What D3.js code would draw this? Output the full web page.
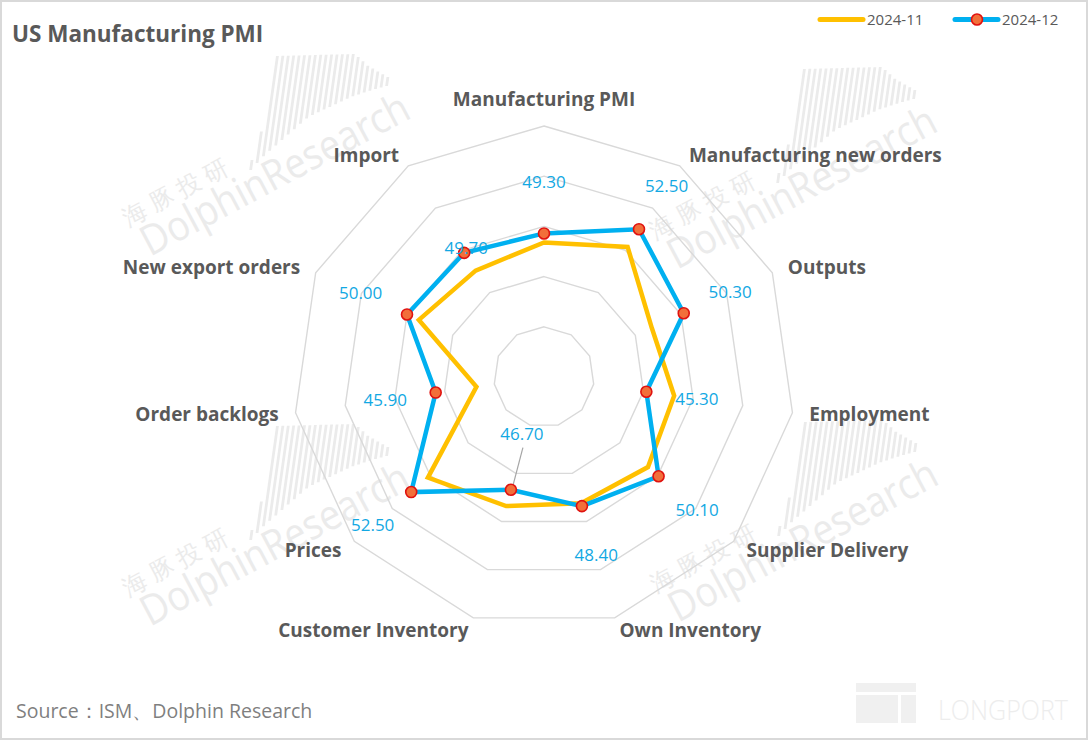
<!doctype html>
<html>
<head>
<meta charset="UTF-8">
<title>US Manufacturing PMI</title>
<script src="https://d3js.org/d3.v7.min.js"></script>
<style>
    body { margin: 0; background: #fff; }
    text { font-family: "Open Sans", "Noto Sans", sans-serif; }
</style>
</head>
<body>
<svg id="chart" width="1088" height="740"></svg>
<script>
    // data
    var categories = ["Manufacturing PMI", "Manufacturing new orders", "Outputs", "Employment",
        "Supplier Delivery", "Own Inventory", "Customer Inventory", "Prices",
        "Order backlogs", "New export orders", "Import"];
    var nov = [48.4, 50.4, 46.8, 48.1, 48.7, 48.1, 48.4, 50.3, 41.8, 48.7, 47.6];
    var dec = [49.3, 52.5, 50.3, 45.3, 50.1, 48.4, 46.7, 52.5, 45.9, 50.0, 49.7];
    var seriesNames = ["2024-11", "2024-12"];
    var ringValues = [40, 45, 50, 55, 60];

    var W = 1088, H = 740, cx = 544, cy = 377;
    var n = categories.length;
    var svg = d3.select("#chart");

    var r = d3.scaleLinear().domain([35, 60]).range([0, 251]);
    var angle = d3.scaleLinear().domain([0, n]).range([0, 2 * Math.PI]);

    function px(i, v) { return cx + r(v) * Math.sin(angle(i)); }
    function py(i, v) { return cy - r(v) * Math.cos(angle(i)); }

    // frame
    svg.append("rect").attr("x", 1).attr("y", 1).attr("width", W - 2).attr("height", H - 2)
        .attr("fill", "#fff").attr("stroke", "#d9d9d9").attr("stroke-width", 2);

    // watermarks
    var wmColor = "#ebebeb";
    var barBottom = d3.scaleLinear().domain([107, 117, 137, 157, 177, 197, 217, 235]).range([-87, -100, -120, -140, -150, -160, -167, -172]);
    var barTop = d3.scaleLinear().domain([107, 112, 116, 195, 210, 235]).range([-97, -117, -201, -203, -191, -178]);
    var barXs = d3.range(107, 236, 5.4);
    function watermark(x, y) {
        var g = svg.append("g").attr("transform", "translate(" + x + "," + y + ")");
        g.append("g").attr("transform", "skewX(-8)")
            .selectAll("rect").data(barXs).enter().append("rect")
            .attr("x", function (d) { return d - 20; })
            .attr("y", function (d) { return barTop(d); })
            .attr("width", 2.8)
            .attr("height", function (d) { return Math.max(3, barBottom(d) - barTop(d)); })
            .attr("fill", wmColor);
        var t = g.append("g").attr("transform", "rotate(-28)");
        t.append("text").attr("x", 0).attr("y", 0).attr("font-size", 42)
            .attr("textLength", 298).attr("lengthAdjust", "spacingAndGlyphs")
            .attr("fill", wmColor).text("DolphinResearch");
        t.append("text").attr("x", -5).attr("y", -37).attr("font-size", 24)
            .attr("textLength", 115).attr("lengthAdjust", "spacing")
            .attr("font-family", "Noto Sans CJK SC")
            .attr("fill", wmColor).text("海豚投研");
    }
    watermark(150, 257);
    watermark(677, 270);
    watermark(150, 627);
    watermark(678, 623);

    // longport mark
    var lp = svg.append("g").attr("fill", "#f0f0f0");
    lp.append("rect").attr("x", 856).attr("y", 683).attr("width", 60).attr("height", 9);
    lp.append("rect").attr("x", 856).attr("y", 695).attr("width", 42).attr("height", 28);
    lp.append("rect").attr("x", 901).attr("y", 695).attr("width", 15).attr("height", 28);
    svg.append("text").attr("x", 938).attr("y", 720).attr("font-size", 28).attr("font-weight", 300)
        .attr("textLength", 130).attr("lengthAdjust", "spacingAndGlyphs")
        .attr("fill", "#ededed").text("LONGPORT");

    // grid rings
    var plot = svg.append("g").attr("transform", "translate(" + cx + "," + cy + ")");
    var ring = d3.lineRadial()
        .angle(function (d, i) { return angle(i); })
        .radius(function (d) { return r(d); })
        .curve(d3.curveLinearClosed);
    plot.selectAll(".ring").data(ringValues).enter().append("path")
        .attr("class", "ring")
        .attr("d", function (v) { return ring(categories.map(function () { return v; })); })
        .attr("fill", "none").attr("stroke", "#d9d9d9").attr("stroke-width", 1.4);

    // series
    var colors = ["#FFC000", "#00B0F0"];
    [nov, dec].forEach(function (s, k) {
        plot.append("path").attr("d", ring(s))
            .attr("fill", "none").attr("stroke", colors[k])
            .attr("stroke-width", 4.5).attr("stroke-linejoin", "miter");
    });

    // leader line for Customer Inventory label
    svg.append("line").attr("x1", px(6, dec[6]) + 1.5).attr("y1", py(6, dec[6]) - 2)
        .attr("x2", px(6, dec[6]) + 12).attr("y2", py(6, dec[6]) - 42)
        .attr("stroke", "#a6a6a6").attr("stroke-width", 1.2);

    // markers
    svg.selectAll(".mk").data(dec).enter().append("circle")
        .attr("class", "mk")
        .attr("cx", function (d, i) { return px(i, d); })
        .attr("cy", function (d, i) { return py(i, d); })
        .attr("r", 5.5)
        .attr("fill", "#F26F3A").attr("stroke", "#E0120F").attr("stroke-width", 1.6);

    // data labels (2024-12)
    var labelOffset = { 6: [11, -56], 10: [2, -5] };
    svg.selectAll(".dl").data(dec).enter().append("text")
        .attr("class", "dl")
        .attr("x", function (d, i) {
            return labelOffset[i] ? px(i, d) + labelOffset[i][0] : px(i, d) + 51 * Math.sin(angle(i));
        })
        .attr("y", function (d, i) {
            return labelOffset[i] ? py(i, d) + labelOffset[i][1] : py(i, d) - 51 * Math.cos(angle(i));
        })
        .attr("dy", "0.35em")
        .attr("text-anchor", "middle")
        .attr("font-size", 17)
        .attr("fill", "#12A8E3")
        .text(function (d) { return d.toFixed(2); });

    // category labels
    svg.selectAll(".cat").data(categories).enter().append("text")
        .attr("class", "cat")
        .attr("x", function (d, i) { return cx + 268 * Math.sin(angle(i)); })
        .attr("y", function (d, i) {
            var s = Math.sin(angle(i));
            return cy - 264 * Math.cos(angle(i)) - (Math.abs(s) < 0.1 ? 14 : 0);
        })
        .attr("dy", "0.35em")
        .attr("text-anchor", function (d, i) {
            var s = Math.sin(angle(i));
            return s > 0.1 ? "start" : (s < -0.1 ? "end" : "middle");
        })
        .attr("font-size", 19)
        .attr("font-weight", "bold")
        .attr("fill", "#595959")
        .text(function (d) { return d; });

    // title
    svg.append("text").attr("x", 12).attr("y", 42).attr("font-size", 22.5)
        .attr("font-weight", "bold").attr("fill", "#595959").text("US Manufacturing PMI");

    // legend
    var leg = svg.append("g");
    var legX = [820, 955];
    seriesNames.forEach(function (name, k) {
        leg.append("line").attr("x1", legX[k]).attr("x2", legX[k] + 43)
            .attr("y1", 19.5).attr("y2", 19.5)
            .attr("stroke", colors[k]).attr("stroke-width", 5).attr("stroke-linecap", "round");
        if (k === 1) {
            leg.append("circle").attr("cx", legX[k] + 22).attr("cy", 19.5).attr("r", 5.5)
                .attr("fill", "#F26F3A").attr("stroke", "#E0120F").attr("stroke-width", 1.6);
        }
        leg.append("text").attr("x", legX[k] + 47).attr("y", 25).attr("font-size", 15)
            .attr("fill", "#595959").text(name);
    });

    // source
    svg.append("text").attr("x", 16).attr("y", 718).attr("font-size", 19.5)
        .attr("fill", "#7f7f7f").text("Source：ISM、Dolphin Research");
</script>
</body>
</html>
